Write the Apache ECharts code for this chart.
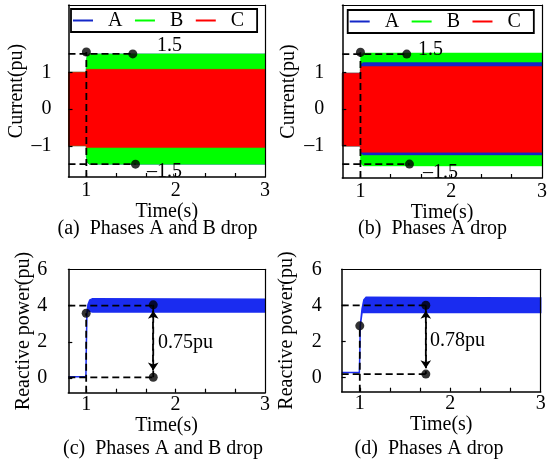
<!DOCTYPE html>
<html>
<head>
<meta charset="utf-8">
<script src="https://cdn.jsdelivr.net/npm/echarts@6/dist/echarts.min.js"></script>
<style>
html,body{margin:0;padding:0;background:#fff}
#main{width:550px;height:464px}
</style>
</head>
<body>
<div id="main"></div>
<script>
// time samples (s) of the current envelopes
var tCur = [0.8, 0.998, 1.0, 1.01, 1.03, 1.06, 3.0];

// (a) phases A and B drop : upper / lower envelope of each phase current (pu)
var aUpA = [1.0, 1.0, 1.3, 1.45, 1.5, 1.5, 1.5];
var aLoA = [-1.0, -1.0, -1.3, -1.45, -1.5, -1.5, -1.5];
var aUpB = [1.0, 1.0, 1.35, 1.46, 1.51, 1.5, 1.5];
var aLoB = [-1.0, -1.0, -1.3, -1.44, -1.5, -1.5, -1.5];
var aUpC = [1.0, 1.0, 1.08, 1.08, 1.08, 1.08, 1.08];
var aLoC = [-1.0, -1.0, -1.05, -1.05, -1.05, -1.05, -1.05];

// (b) phase A drop
var bUpA = [0.98, 0.98, 1.15, 1.24, 1.27, 1.27, 1.27];
var bLoA = [-1.01, -1.01, -1.15, -1.22, -1.25, -1.25, -1.25];
var bUpB = [0.98, 0.98, 1.39, 1.48, 1.53, 1.53, 1.53];
var bLoB = [-1.01, -1.01, -1.4, -1.5, -1.55, -1.55, -1.55];
var bUpC = [0.98, 0.98, 1.12, 1.16, 1.16, 1.16, 1.16];
var bLoC = [-1.01, -1.01, -1.15, -1.18, -1.18, -1.18, -1.18];

// (c) reactive power, phases A and B drop
var tQc = [0.8, 0.997, 1.0, 1.008, 1.02, 1.04, 1.07, 3.0];
var cUpQ = [0.08, 0.08, 1.2, 3.58, 4.05, 4.3, 4.38, 4.35];
var cLoQ = [0.08, 0.08, 1.2, 3.58, 3.75, 3.68, 3.65, 3.65];

// (d) reactive power, phase A drop
var tQd = [0.8, 0.995, 1.0, 1.005, 1.025, 1.045, 1.07, 3.0];
var dUpQ = [0.27, 0.27, 1.3, 2.86, 3.8, 4.3, 4.45, 4.4];
var dLoQ = [0.27, 0.27, 1.3, 2.86, 3.6, 3.62, 3.6, 3.6];

// marker dots and dashed guides
var aDots = [[1.0, 1.55], [1.52, 1.5], [1.55, -1.5]];
var aGuides = [[[0.8, 1.5], [1.52, 1.5]], [[0.8, -1.5], [1.55, -1.5]], [[1.0, -1.85], [1.0, 1.55]]];
var bDots = [[1.0, 1.55], [1.51, 1.5], [1.54, -1.5]];
var bGuides = [[[0.8, 1.5], [1.51, 1.5]], [[0.8, -1.5], [1.54, -1.5]], [[1.0, -1.88], [1.0, 1.55]]];
var cDots = [[1.0, 3.58], [1.75, 4.04], [1.75, 0.05]];
var cGuides = [[[0.8, 4.0], [1.75, 4.0]], [[0.8, 0.05], [1.75, 0.05]], [[1.0, -0.8], [1.0, 3.58]], [[1.75, 4.04], [1.75, 0.05]]];
var cArrow = [[1.75, 3.72], [1.75, 0.42]];
var dDots = [[1.0, 2.86], [1.73, 4.0], [1.73, 0.18]];
var dGuides = [[[0.8, 4.0], [1.73, 4.0]], [[0.8, 0.18], [1.73, 0.18]], [[1.0, -0.8], [1.0, 2.86]], [[1.73, 4.0], [1.73, 0.18]]];
var dArrow = [[1.73, 3.7], [1.73, 0.5]];

// tick labels
var xLabels = [1, 2, 3];
var xTicks = [1, 1.3333, 1.6667, 2, 2.3333, 2.6667];
var curLabels = [-1, 0, 1];
var qLabels = [0, 2, 4, 6];
var qTicks = [0, 2, 4];

var FONT = "'Liberation Serif','Times New Roman',serif";
var FS = 20;
var BLUE = '#1428c8', GREEN = '#00ff00', RED = '#ff0000', QBLUE = '#1a2cf0';

var chart = echarts.init(document.getElementById('main'));

function minus(v) { return v < 0 ? '\u2013' + (-v) : '' + v; }

var grids = [
  { left: 68.5, top: 5, width: 196.5, height: 172 },
  { left: 342.3, top: 5, width: 200.4, height: 173 },
  { left: 68.3, top: 269.3, width: 196.7, height: 123.4 },
  { left: 341.7, top: 269.3, width: 199, height: 122.4 }
];
var yCfg = [
  { min: -1.85, max: 2.83, labels: curLabels, ticks: curLabels, margin: 17, gap: 42, name: 'Current(pu)', xm: 4, xg: 13 },
  { min: -1.88, max: 2.84, labels: curLabels, ticks: curLabels, margin: 18, gap: 44, name: 'Current(pu)', xm: 4, xg: 13 },
  { min: -0.8, max: 6, labels: qLabels, ticks: qTicks, margin: 21, gap: 34, name: 'Reactive power(pu)', xm: 2, xg: 21 },
  { min: -0.8, max: 6, labels: qLabels, ticks: qTicks, margin: 20, gap: 45, name: 'Reactive power(pu)', xm: 2, xg: 22 }
];

var txt = { fontSize: FS, color: '#000', fontFamily: FONT };
var xAxes = [], yAxes = [];
yCfg.forEach(function (c, gi) {
  xAxes.push({
    gridIndex: gi, type: 'value', min: 0.8, max: 3, z: 10,
    axisLine: { show: true, onZero: false, lineStyle: { color: '#000', width: 1.5 } },
    axisTick: { show: true, inside: true, length: 4, customValues: xTicks, lineStyle: { color: '#000', width: 1.2 } },
    axisLabel: { customValues: xLabels, margin: c.xm, fontSize: FS, color: '#000', fontFamily: FONT },
    splitLine: { show: false },
    name: 'Time(s)', nameLocation: 'middle', nameGap: c.xg, nameTextStyle: txt
  });
  xAxes.push({
    gridIndex: gi, type: 'value', position: 'top', min: 0.8, max: 3, z: 10,
    axisLine: { show: true, onZero: false, lineStyle: { color: '#000', width: 1.2 } },
    axisTick: { show: false }, axisLabel: { show: false }, splitLine: { show: false }
  });
  yAxes.push({
    gridIndex: gi, type: 'value', min: c.min, max: c.max, z: 10,
    axisLine: { show: true, onZero: false, lineStyle: { color: '#000', width: 1.5 } },
    axisTick: { show: true, inside: true, length: 4, customValues: c.ticks, lineStyle: { color: '#000', width: 1.2 } },
    axisLabel: { customValues: c.labels, margin: c.margin, fontSize: FS, color: '#000', fontFamily: FONT, formatter: minus },
    splitLine: { show: false },
    name: c.name, nameLocation: 'middle', nameGap: c.gap, nameTextStyle: txt
  });
  yAxes.push({
    gridIndex: gi, type: 'value', position: 'right', min: c.min, max: c.max, z: 10,
    axisLine: { show: true, onZero: false, lineStyle: { color: '#000', width: 1.2 } },
    axisTick: { show: false }, axisLabel: { show: false }, splitLine: { show: false }
  });
});

// filled envelope between upper and lower curve
function band(name, gi, t, up, lo, color, lw) {
  return {
    name: name, type: 'custom', xAxisIndex: 2 * gi, yAxisIndex: 2 * gi,
    itemStyle: { color: color }, silent: true,
    encode: { x: 0, y: [1, 2] },
    data: t.map(function (x, i) { return [x, up[i], lo[i]]; }),
    renderItem: function (params, api) {
      if (params.dataIndexInside !== 0) return;
      var n = params.dataInsideLength, pts = [], j;
      for (j = 0; j < n; j++) pts.push(api.coord([api.value(0, j), api.value(1, j)]));
      for (j = n - 1; j >= 0; j--) pts.push(api.coord([api.value(0, j), api.value(2, j)]));
      return { type: 'polygon', shape: { points: pts }, style: { fill: color, stroke: color, lineWidth: lw } };
    }
  };
}

function guides(gi, segs, dots, arrow) {
  var out = segs.map(function (s) {
    return {
      type: 'line', xAxisIndex: 2 * gi, yAxisIndex: 2 * gi, data: s, symbol: 'none', silent: true, z: 5,
      lineStyle: { color: '#000', width: 1.8, type: [7, 4] }
    };
  });
  if (arrow) {
    out[out.length - 1].markLine = {
      silent: true, symbol: ['arrow', 'arrow'], symbolSize: [8, 8], label: { show: false },
      lineStyle: { color: '#000', width: 1.8, type: [7, 4] },
      data: [[{ coord: arrow[0] }, { coord: arrow[1] }]]
    };
  }
  out.push({
    type: 'scatter', xAxisIndex: 2 * gi, yAxisIndex: 2 * gi, data: dots, symbolSize: 9, silent: true, z: 6,
    itemStyle: { color: '#000' }
  });
  return out;
}

var series = [].concat(
  band('A', 0, tCur, aUpA, aLoA, BLUE, 0.5),
  band('B', 0, tCur, aUpB, aLoB, GREEN, 0.5),
  band('C', 0, tCur, aUpC, aLoC, RED, 0.5),
  guides(0, aGuides, aDots),
  band('B', 1, tCur, bUpB, bLoB, GREEN, 0.5),
  band('A', 1, tCur, bUpA, bLoA, BLUE, 0.5),
  band('C', 1, tCur, bUpC, bLoC, RED, 0.5),
  guides(1, bGuides, bDots),
  band('Qc', 2, tQc, cUpQ, cLoQ, QBLUE, 1.5),
  guides(2, cGuides, cDots, cArrow),
  band('Qd', 3, tQd, dUpQ, dLoQ, QBLUE, 1.5),
  guides(3, dGuides, dDots, dArrow)
);

function legendAt(left, top) {
  return {
    left: left, top: top, data: ['A', 'B', 'C'], icon: 'rect', itemWidth: 20, itemHeight: 2, itemGap: 12.5,
    padding: [1.5, 13, 1.5, 2], borderColor: '#000', borderWidth: 1.8, backgroundColor: '#fff',
    selectedMode: false,
    textStyle: { fontSize: FS, color: '#000', fontFamily: FONT, padding: [0, 0, 0, 10] }
  };
}

function label(text, x, y, align) {
  return {
    type: 'text', x: x, y: y, z: 20,
    style: { text: text, font: FS + 'px ' + FONT, fill: '#000', align: align || 'left', verticalAlign: 'middle' }
  };
}

chart.setOption({
  animation: false,
  backgroundColor: '#fff',
  grid: grids,
  xAxis: xAxes,
  yAxis: yAxes,
  legend: [legendAt(71, 9), legendAt(347.7, 10)],
  series: series,
  graphic: [
    label('1.5', 157, 45.5),
    label('\u20131.5', 147, 172),
    label('1.5', 418, 49.5),
    label('\u20131.5', 423, 173),
    label('0.75pu', 158, 343),
    label('0.78pu', 430, 340.5),
    label('(a)  Phases A and B drop', 157.5, 228.5, 'center'),
    label('(b)  Phases A drop', 432.5, 228.5, 'center'),
    label('(c)  Phases A and B drop', 163, 448.5, 'center'),
    label('(d)  Phases A drop', 429, 448.5, 'center')
  ]
});
</script>
</body>
</html>
